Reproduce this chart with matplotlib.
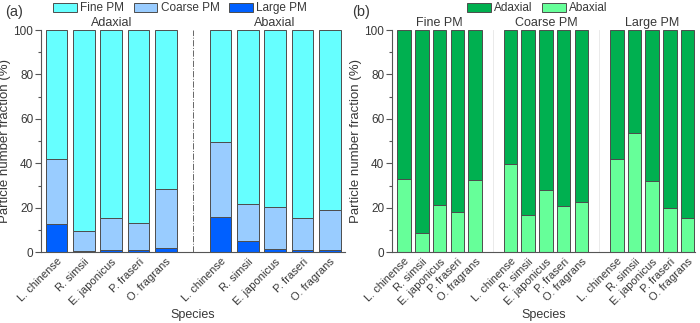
import matplotlib.pyplot as plt
import numpy as np
from matplotlib.patches import Patch

plt.rcParams['font.family'] = ['Liberation Sans', 'DejaVu Sans']

species = ['L. chinense', 'R. simsii', 'E. japonicus', 'P. fraseri', 'O. fragrans']

# panel (a): cumulative tops (%)
ad_large = np.array([12.6, 0.6, 1.0, 1.0, 1.9])
ad_coarse_top = np.array([41.8, 9.6, 15.3, 13.0, 28.3])
ab_large = np.array([16.0, 5.1, 1.5, 1.0, 1.0])
ab_coarse_top = np.array([49.5, 21.7, 20.5, 15.3, 18.9])

# panel (b): abaxial share of each size class (%)
fine_abaxial = np.array([33.1, 8.8, 21.4, 18.0, 32.4])
coarse_abaxial = np.array([39.7, 16.9, 28.0, 21.0, 22.8])
large_abaxial = np.array([41.8, 53.8, 31.9, 19.9, 15.3])

c_fine = '#66FFFF'
c_coarse = '#99CCFF'
c_large = '#0060FF'
c_adax = '#00B050'
c_abax = '#66FF99'
edge = '#4d4d4d'
txt = '#383838'
fs = 8.5

fig = plt.figure(figsize=(7, 3.23), dpi=100)
ax1 = fig.add_axes([0.0586, 0.219, 0.434, 0.688])
ax2 = fig.add_axes([0.56, 0.219, 0.433, 0.688])


def style(ax):
    for s in ['top', 'right']:
        ax.spines[s].set_visible(False)
    for s in ['left', 'bottom']:
        ax.spines[s].set_color('#555555')
        ax.spines[s].set_linewidth(0.8)
    ax.set_ylim(0, 100)
    ax.set_yticks([0, 20, 40, 60, 80, 100])
    ax.set_yticks(np.arange(10, 100, 20), minor=True)
    ax.tick_params(axis='y', which='major', length=4, width=0.8, color='#555555',
                   labelsize=fs, labelcolor=txt, pad=1.5)
    ax.tick_params(axis='y', which='minor', length=2, width=0.8, color='#555555')
    ax.tick_params(axis='x', length=0, labelsize=8, labelcolor=txt, pad=3)
    ax.set_ylabel('Particle number fraction (%)', fontsize=9.5, color=txt, labelpad=1.5)
    ax.set_xlabel('Species', fontsize=fs + 0.5, color=txt, labelpad=2)


# ---- panel (a)
w = 0.79
pos_ad = np.arange(5)
pos_ab = np.arange(6, 11)
for pos, large, ctop in [(pos_ad, ad_large, ad_coarse_top), (pos_ab, ab_large, ab_coarse_top)]:
    ax1.bar(pos, large, w, color=c_large, edgecolor=edge, linewidth=0.7)
    ax1.bar(pos, ctop - large, w, bottom=large, color=c_coarse, edgecolor=edge, linewidth=0.7)
    ax1.bar(pos, 100 - ctop, w, bottom=ctop, color=c_fine, edgecolor=edge, linewidth=0.7)
ax1.axvline(5, color='#666666', lw=0.7, ls='-.')
ax1.set_xlim(-0.57, 10.55)
ax1.set_xticks(np.concatenate([pos_ad, pos_ab]))
ax1.set_xticklabels(species * 2, rotation=45, ha='right', rotation_mode='anchor')
style(ax1)
ax1.text(2, 103.2, 'Adaxial', ha='center', va='center', fontsize=fs + 0.5, color=txt, clip_on=False)
ax1.text(8, 103.2, 'Abaxial', ha='center', va='center', fontsize=fs + 0.5, color=txt, clip_on=False)

# ---- panel (b)
w2 = 0.77
groups = [fine_abaxial, coarse_abaxial, large_abaxial]
names = ['Fine PM', 'Coarse PM', 'Large PM']
ticks = []
for g, vals in enumerate(groups):
    pos = np.arange(5) + 6 * g
    ticks.extend(pos)
    ax2.bar(pos, vals, w2, color=c_abax, edgecolor=edge, linewidth=0.7)
    ax2.bar(pos, 100 - vals, w2, bottom=vals, color=c_adax, edgecolor=edge, linewidth=0.7)
    ax2.text(pos[2], 103.2, names[g], ha='center', va='center', fontsize=fs + 0.5,
             color=txt, clip_on=False)
for xv in [5, 11]:
    ax2.axvline(xv, color='#e6e6e6', lw=0.6, zorder=0)
ax2.set_xlim(-0.69, 16.42)
ax2.set_xticks(ticks)
ax2.set_xticklabels(species * 3, rotation=45, ha='right', rotation_mode='anchor')
style(ax2)

# legends
leg_kw = dict(loc='center left', frameon=False, fontsize=fs, handlelength=2.0,
              handleheight=0.85, columnspacing=0.8, handletextpad=0.3,
              labelcolor=txt, borderaxespad=0, borderpad=0)
h1 = [Patch(facecolor=c, edgecolor=edge, linewidth=0.7) for c in [c_fine, c_coarse, c_large]]
fig.legend(h1, ['Fine PM', 'Coarse PM', 'Large PM'], ncol=3,
           bbox_to_anchor=(0.0757, 0.974), **leg_kw)
h2 = [Patch(facecolor=c, edgecolor=edge, linewidth=0.7) for c in [c_adax, c_abax]]
fig.legend(h2, ['Adaxial', 'Abaxial'], ncol=2,
           bbox_to_anchor=(0.667, 0.974), **leg_kw)

fig.text(0.007, 0.963, '(a)', fontsize=10.5, color=txt, va='center')
fig.text(0.503, 0.963, '(b)', fontsize=10.5, color=txt, va='center')

fig.savefig('out.png', dpi=100)
